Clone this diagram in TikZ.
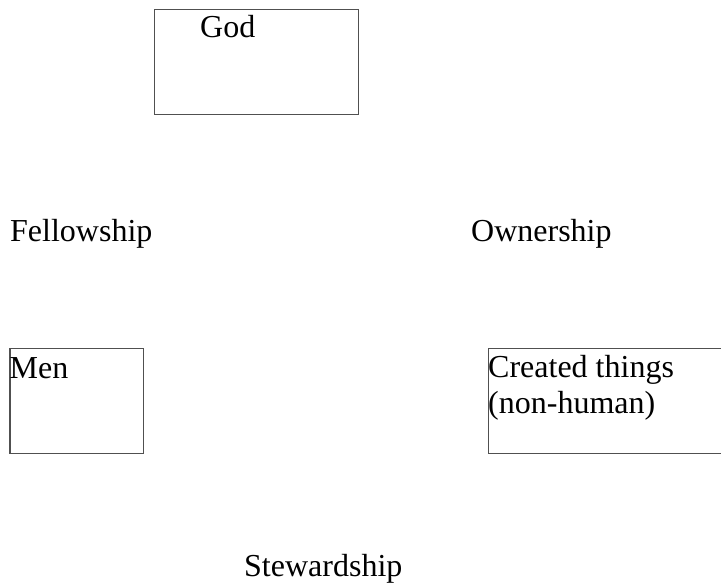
\documentclass[tikz,border=0pt]{standalone}
\usepackage{fontspec}
\setmainfont{Liberation Serif}
\definecolor{boxline}{RGB}{80,80,80}
\begin{document}
\begin{tikzpicture}[x=1pt,y=-1pt,
  box/.style={draw=boxline,line width=1.5pt,inner sep=0pt},
  lbl/.style={anchor=base west,inner sep=0pt,font=\fontsize{32}{36.5}\selectfont}]
\useasboundingbox (0,0) rectangle (721,583);
% boxes
\node[box,minimum width=204pt,minimum height=105pt,anchor=north west] (god) at (153.5,9) {};
\node[box,minimum width=133.5pt,minimum height=105pt,anchor=north west] (men) at (9,347.5) {};
\node[box,minimum width=236pt,minimum height=105pt,anchor=north west] (things) at (487.5,347.5) {};
% texts
\node[lbl] (godtxt) at (200,38) {God};
\node[lbl] (mentxt) at (9.5,378) {Men};
\node[lbl] (thingstxt) at (488,377) {Created things};
\node[lbl] (thingstxtb) at (488,413) {(non-human)};
\node[lbl] (fellow) at (10,241) {Fellowship};
\node[lbl] (owner) at (471,241) {Ownership};
\node[lbl] (steward) at (244,576) {Stewardship};
\end{tikzpicture}
\end{document}
